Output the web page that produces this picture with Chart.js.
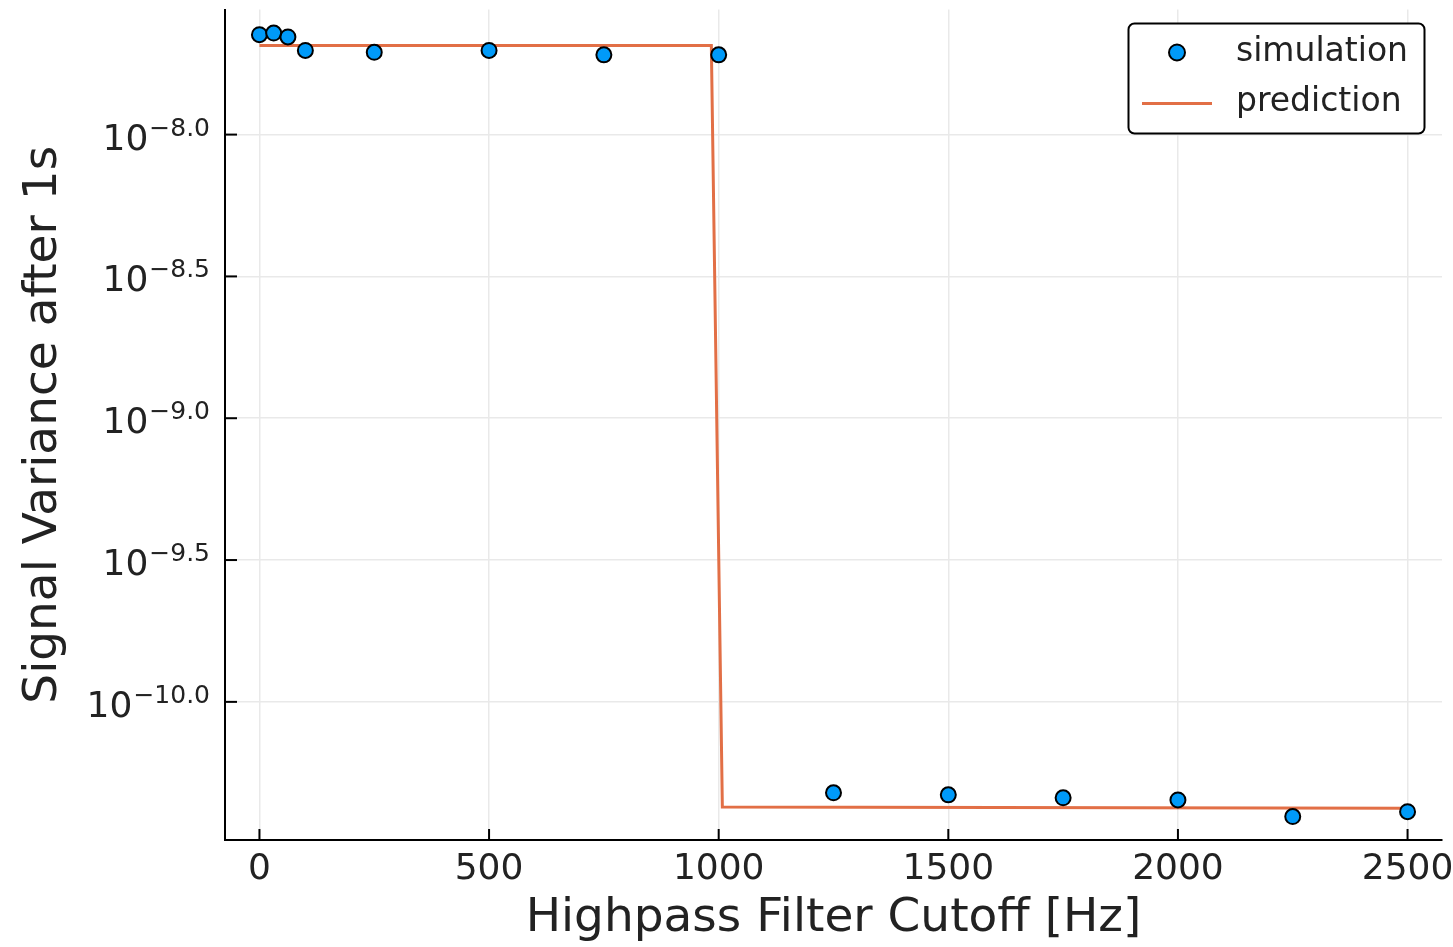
<!DOCTYPE html>
<html>
<head>
<meta charset="utf-8">
<script src="https://cdn.jsdelivr.net/npm/chart.js@4"></script>
<style>
  html, body { margin: 0; padding: 0; background: #fff; }
  #wrap { width: 1453px; height: 947px; }
</style>
</head>
<body>
<div id="wrap"><canvas id="c" width="1453" height="947"></canvas></div>
<script>
// Highpass cutoff frequencies [Hz] of the simulation runs
const cutoffs = [0, 31, 62, 100, 250, 500, 750, 1000, 1250, 1500, 1750, 2000, 2250, 2500];
// Simulated signal variance after 1 s
const simVariance = [2.25e-8, 2.28e-8, 2.21e-8, 1.98e-8, 1.95e-8, 1.98e-8, 1.91e-8, 1.91e-8,
                     4.78e-11, 4.70e-11, 4.59e-11, 4.51e-11, 3.94e-11, 4.10e-11];
// Predicted variance curve (step at the 1 kHz cutoff)
const predCutoff = [0, 984, 1008, 2500];
const predVariance = [2.06e-8, 2.06e-8, 4.26e-11, 4.22e-11];
// Axis ticks
const xTicks = [0, 500, 1000, 1500, 2000, 2500];
const yTickExponents = [-10.0, -9.5, -9.0, -8.5, -8.0];

const FONT = 'DejaVu Sans';
const TEXT = '#222222';
const BLUE = '#009af9';
const ORANGE = '#e26f46';

// Inward tick marks and superscripted log tick labels
const axisDecor = {
  id: 'axisDecor',
  afterDraw(chart) {
    const ctx = chart.ctx;
    const xs = chart.scales.x, ys = chart.scales.y;
    const area = chart.chartArea;
    ctx.save();
    ctx.strokeStyle = '#000';
    ctx.lineWidth = 2;
    xs.ticks.forEach(t => {
      const px = xs.getPixelForValue(t.value);
      ctx.beginPath(); ctx.moveTo(px, area.bottom); ctx.lineTo(px, area.bottom - 11); ctx.stroke();
    });
    ys.ticks.forEach(t => {
      const py = ys.getPixelForValue(t.value);
      ctx.beginPath(); ctx.moveTo(area.left, py); ctx.lineTo(area.left + 12, py); ctx.stroke();
    });
    // log labels: 10^{exponent}
    ctx.fillStyle = TEXT;
    ctx.textBaseline = 'alphabetic';
    ctx.textAlign = 'left';
    const right = area.left - 15;
    yTickExponents.forEach(e => {
      const py = ys.getPixelForValue(Math.pow(10, e));
      const sup = '\u2212' + Math.abs(e).toFixed(1);
      ctx.font = '25px "' + FONT + '"';
      const sw = ctx.measureText(sup).width;
      ctx.fillText(sup, right - sw, py + 1);
      ctx.font = '36px "' + FONT + '"';
      const bw = ctx.measureText('10').width;
      ctx.fillText('10', right - sw - bw - 1, py + 15);
    });
    ctx.restore();
  }
};

// Boxed legend in the upper right corner
const boxLegend = {
  id: 'boxLegend',
  afterDraw(chart) {
    const ctx = chart.ctx;
    const ds = chart.data.datasets;
    ctx.save();
    ctx.beginPath();
    ctx.roundRect(1128.5, 23.5, 296, 110, 6);
    ctx.fillStyle = '#fff';
    ctx.fill();
    ctx.lineWidth = 2;
    ctx.strokeStyle = '#000';
    ctx.stroke();
    // scatter marker
    ctx.beginPath();
    ctx.arc(1177, 52.5, 8, 0, Math.PI * 2);
    ctx.fillStyle = ds[0].backgroundColor;
    ctx.fill();
    ctx.lineWidth = 2;
    ctx.strokeStyle = '#000';
    ctx.stroke();
    // line sample
    ctx.beginPath();
    ctx.moveTo(1142, 103.5); ctx.lineTo(1212, 103.5);
    ctx.strokeStyle = ds[1].borderColor;
    ctx.lineWidth = 3;
    ctx.stroke();
    ctx.fillStyle = TEXT;
    ctx.font = '33px "' + FONT + '"';
    ctx.textBaseline = 'alphabetic';
    ctx.textAlign = 'left';
    ctx.fillText(ds[0].label, 1236, 61);
    ctx.fillText(ds[1].label, 1236, 111);
    ctx.restore();
  }
};

new Chart(document.getElementById('c'), {
  data: {
    datasets: [
      {
        type: 'scatter',
        label: 'simulation',
        data: cutoffs.map((x, i) => ({ x, y: simVariance[i] })),
        backgroundColor: BLUE,
        borderColor: '#000',
        borderWidth: 2,
        pointRadius: 7.5,
        order: 0
      },
      {
        type: 'line',
        label: 'prediction',
        data: predCutoff.map((x, i) => ({ x, y: predVariance[i] })),
        borderColor: ORANGE,
        backgroundColor: ORANGE,
        borderWidth: 3,
        pointRadius: 0,
        tension: 0,
        fill: false,
        order: 1
      }
    ]
  },
  options: {
    responsive: false,
    animation: false,
    devicePixelRatio: 1,
    layout: { padding: { left: 0, top: 7, right: 11, bottom: 0 } },
    plugins: { legend: { display: false }, tooltip: { enabled: false } },
    scales: {
      x: {
        type: 'linear',
        min: -75,
        max: 2575,
        afterBuildTicks: s => { s.ticks = xTicks.map(v => ({ value: v })); },
        afterFit: s => { s.height = 107; s.paddingLeft = 0; s.paddingRight = 0; },
        grid: { color: '#e9e9e9', lineWidth: 1.5, drawTicks: false },
        border: { display: true, color: '#000', width: 2 },
        ticks: {
          color: TEXT,
          font: { family: FONT, size: 36 },
          padding: 8,
          maxRotation: 0,
          callback: v => String(v)
        },
        title: {
          display: true,
          text: 'Highpass Filter Cutoff [Hz]',
          color: TEXT,
          font: { family: FONT, size: 47 },
          padding: { top: 0, bottom: 0 }
        }
      },
      y: {
        type: 'logarithmic',
        min: Math.pow(10, -10.487),
        max: Math.pow(10, -7.559),
        afterBuildTicks: s => { s.ticks = yTickExponents.map(e => ({ value: Math.pow(10, e) })); },
        afterFit: s => { s.width = 225; s.paddingTop = 0; s.paddingBottom = 0; },
        grid: { color: '#e9e9e9', lineWidth: 1.5, drawTicks: false },
        border: { display: true, color: '#000', width: 2 },
        ticks: { callback: () => '', padding: 0 },
        title: {
          display: true,
          text: 'Signal Variance after 1s',
          color: TEXT,
          font: { family: FONT, size: 47 },
          padding: { top: 16, bottom: 0 }
        }
      }
    }
  },
  plugins: [axisDecor, boxLegend]
});
</script>
</body>
</html>
